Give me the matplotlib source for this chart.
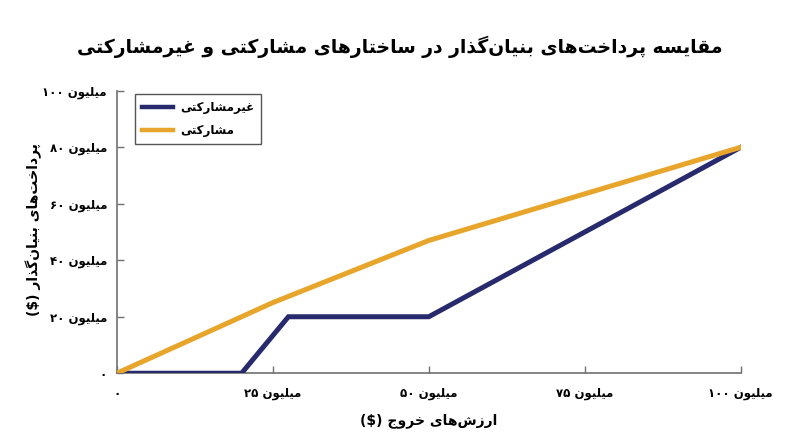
import matplotlib

matplotlib.use("Agg")
import matplotlib.pyplot as plt
from matplotlib.lines import Line2D

# --- data (values in millions of dollars) ---------------------------------
non_part_exit = [0, 20, 27.5, 50, 100]
non_part_payout = [0, 0, 20, 20, 80]
part_exit = [0, 25, 50, 100]
part_payout = [0, 25, 47, 80]

x_ticks = [0, 25, 50, 75, 100]
x_tick_digits = ["۰", "۲۵", "۵۰", "۷۵", "۱۰۰"]
y_ticks = [0, 20, 40, 60, 80, 100]
y_tick_digits = ["۰", "۲۰", "۴۰", "۶۰", "۸۰", "۱۰۰"]

title_fa = "مقایسه پرداخت\u200cهای بنیان\u200cگذار در ساختارهای مشارکتی و غیرمشارکتی"
xlabel_fa = "ارزش\u200cهای خروج"
ylabel_fa = "پرداخت\u200cهای بنیان\u200cگذار"
million_fa = "میلیون"
label_non_part = "غیرمشارکتی"
label_part = "مشارکتی"

NAVY = "#272a6c"
GOLD = "#e8a52b"
AXIS_GRAY = "#707070"

# matplotlib has no Arabic shaping: map letters to presentation forms by hand
# (isolated, final, initial, medial); None = joins only to the right
FORMS = {
    "\u0627": ("\ufe8d", "\ufe8e", None, None),  # alef
    "\u0628": ("\ufe8f", "\ufe90", "\ufe91", "\ufe92"),  # beh
    "\u067e": ("\ufb56", "\ufb57", "\ufb58", "\ufb59"),  # peh
    "\u062a": ("\ufe95", "\ufe96", "\ufe97", "\ufe98"),  # teh
    "\u062c": ("\ufe9d", "\ufe9e", "\ufe9f", "\ufea0"),  # jeem
    "\u062e": ("\ufea5", "\ufea6", "\ufea7", "\ufea8"),  # khah
    "\u062f": ("\ufea9", "\ufeaa", None, None),  # dal
    "\u0630": ("\ufeab", "\ufeac", None, None),  # thal
    "\u0631": ("\ufead", "\ufeae", None, None),  # reh
    "\u0632": ("\ufeaf", "\ufeb0", None, None),  # zain
    "\u0633": ("\ufeb1", "\ufeb2", "\ufeb3", "\ufeb4"),  # seen
    "\u0634": ("\ufeb5", "\ufeb6", "\ufeb7", "\ufeb8"),  # sheen
    "\u063a": ("\ufecd", "\ufece", "\ufecf", "\ufed0"),  # ghain
    "\u0642": ("\ufed5", "\ufed6", "\ufed7", "\ufed8"),  # qaf
    "\u06a9": ("\ufb8e", "\ufb8f", "\ufb90", "\ufb91"),  # keheh
    "\u06af": ("\ufb92", "\ufb93", "\ufb94", "\ufb95"),  # gaf
    "\u0644": ("\ufedd", "\ufede", "\ufedf", "\ufee0"),  # lam
    "\u0645": ("\ufee1", "\ufee2", "\ufee3", "\ufee4"),  # meem
    "\u0646": ("\ufee5", "\ufee6", "\ufee7", "\ufee8"),  # noon
    "\u0647": ("\ufee9", "\ufeea", "\ufeeb", "\ufeec"),  # heh
    "\u0648": ("\ufeed", "\ufeee", None, None),  # waw
    "\u06cc": ("\ufbfc", "\ufbfd", "\ufbfe", "\ufbff"),  # farsi yeh
}


def rtl(text: str) -> str:
    """Shape Persian letters and return them in visual (left to right) order."""
    out = []
    for i, c in enumerate(text):
        if c not in FORMS:
            if c != "\u200c":
                out.append(c)
            continue
        prev = text[i - 1] if i > 0 else None
        nxt = text[i + 1] if i + 1 < len(text) else None
        iso, fin, ini, med = FORMS[c]
        join_prev = prev in FORMS and FORMS[prev][2] is not None
        join_next = ini is not None and nxt in FORMS
        if join_prev and join_next:
            out.append(med)
        elif join_prev:
            out.append(fin)
        elif join_next:
            out.append(ini)
        else:
            out.append(iso)
    return "".join(out)[::-1]


def tick_text(digits: str) -> str:
    return digits if digits == "۰" else f"{digits} {rtl(million_fa)}"


plt.rcParams["font.family"] = ["DejaVu Sans"]
plt.rcParams["font.weight"] = "bold"

fig = plt.figure(figsize=(8, 4.47), dpi=100)
ax = fig.add_axes([0.146, 0.165, 0.78, 0.632])

ax.plot(non_part_exit, non_part_payout, color=NAVY, lw=3.6, solid_joinstyle="miter", zorder=3)
ax.plot(part_exit, part_payout, color=GOLD, lw=3.6, solid_joinstyle="miter", zorder=3)

ax.set_xlim(0, 100)
ax.set_ylim(0, 100)
ax.set_xticks(x_ticks, [tick_text(d) for d in x_tick_digits])
ax.set_yticks(y_ticks, [tick_text(d) for d in y_tick_digits])
ax.tick_params(direction="in", length=5, width=1, color=AXIS_GRAY, labelsize=8.5)
ax.tick_params(axis="x", pad=10)
ax.tick_params(axis="y", pad=7)
for side in ("top", "right"):
    ax.spines[side].set_visible(False)
for side in ("left", "bottom"):
    ax.spines[side].set_color(AXIS_GRAY)
    ax.spines[side].set_linewidth(1.2)

ax.set_xlabel(r"(\$) " + rtl(xlabel_fa), fontsize=10, fontweight="bold")
ax.set_ylabel(r"(\$) " + rtl(ylabel_fa), fontsize=10, fontweight="bold")
ax.xaxis.set_label_coords(0.5, -0.14)
ax.yaxis.set_label_coords(-0.12, 0.51)

handles = [
    Line2D([], [], color=NAVY, lw=3.2, label=rtl(label_non_part)),
    Line2D([], [], color=GOLD, lw=3.2, label=rtl(label_part)),
]
leg = ax.legend(
    handles=handles, loc="upper left", bbox_to_anchor=(0.029, 0.99), borderaxespad=0,
    fancybox=False, fontsize=8.5, handlelength=2.6, handletextpad=0.6,
    labelspacing=0.85, borderpad=0.6, framealpha=1,
)
leg.get_frame().set_edgecolor("#555555")
leg.get_frame().set_linewidth(1.0)

fig.text(0.5, 1 - 47 / 447, rtl(title_fa), ha="center", va="center", fontsize=13.5, fontweight="bold")

fig.savefig("out.png", dpi=100)
